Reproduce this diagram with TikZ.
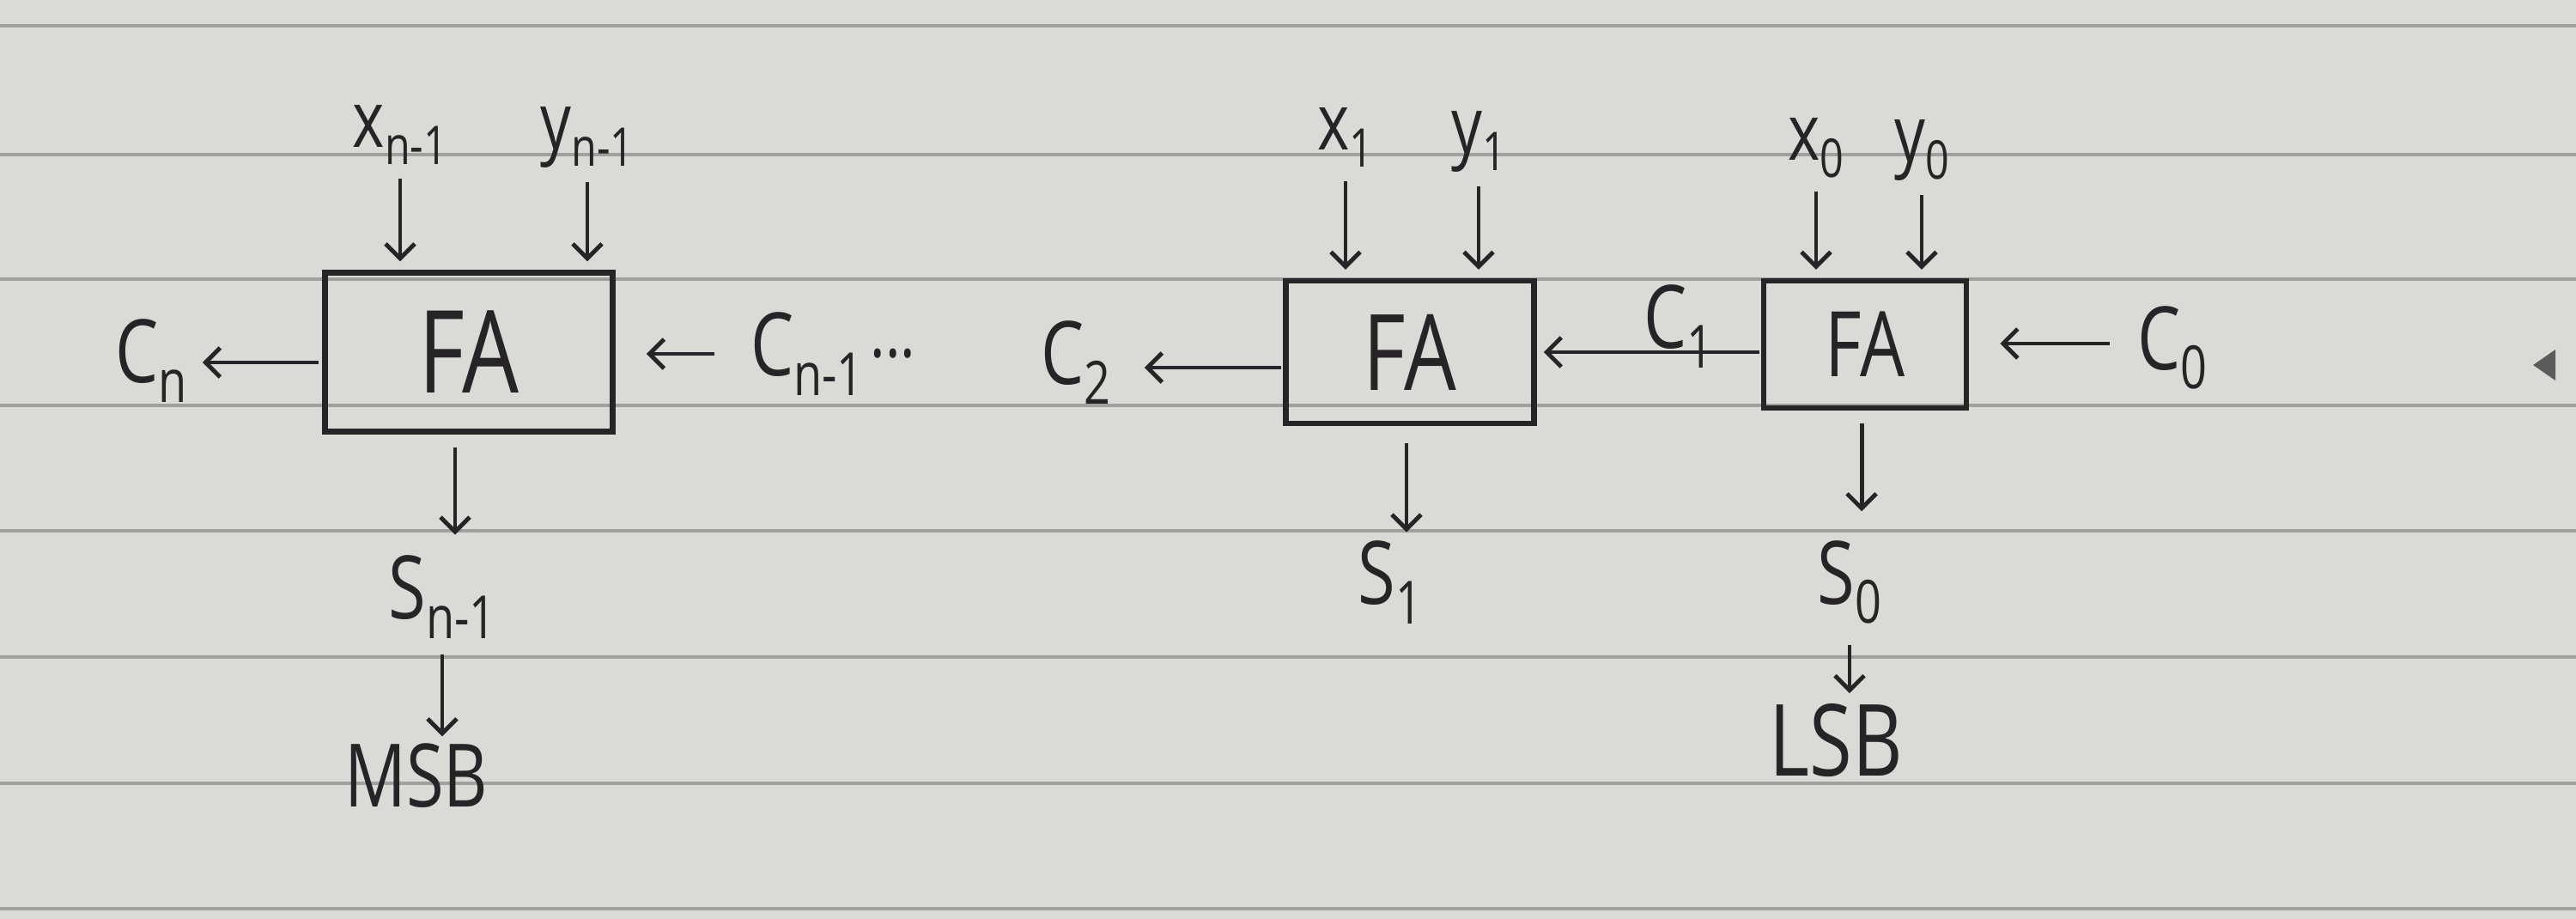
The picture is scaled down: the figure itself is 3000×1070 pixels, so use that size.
\documentclass[tikz,border=0pt]{standalone}
\usepackage{fontspec}
\setmainfont{Open Sans}
\usepackage{graphicx}
\usetikzlibrary{arrows.meta}
\definecolor{paper}{RGB}{218,218,215}
\definecolor{rulecol}{RGB}{160,160,158}
\definecolor{ink}{RGB}{38,36,38}
\newcommand\lowsub[1]{\raisebox{-0.22em}{\scalebox{0.68}{#1}}}
\newcommand\hand[1]{\scalebox{0.78}[1]{#1}}
\begin{document}
\begin{tikzpicture}[x=0.01cm,y=-0.01cm,
  arr/.style={draw=ink, line width=1.4pt, -{Straight Barb[length=0.17cm,width=0.34cm,line width=1.4pt]}},
  fabox/.style={draw=ink, line width=1.8pt, inner sep=0pt, text=ink},
  lab/.style={text=ink, inner sep=1pt, font=\fontsize{29}{31}\selectfont},
  inlab/.style={lab, font=\fontsize{26}{28}\selectfont}]
\fill[paper] (0,0) rectangle (3000,1070);
\useasboundingbox (0,0) rectangle (3000,1070);
\foreach \yy in {30,180,325,472,618,765,912,1058}
  \draw[rulecol, line width=1.2pt] (0,\yy) -- (3000,\yy);
\fill[ink!75] (2950,425) -- (2976,407) -- (2976,443) -- cycle;

% full adders
\node[fabox, minimum width=3.35cm, minimum height=1.85cm] (fa1) at (546,410) {\fontsize{38}{40}\selectfont\hand{FA}};
\node[fabox, minimum width=2.89cm, minimum height=1.66cm] (fa2) at (1642,410) {\fontsize{35}{37}\selectfont\hand{FA}};
\node[fabox, minimum width=2.36cm, minimum height=1.48cm] (fa3) at (2172,401) {\fontsize{30}{32}\selectfont\hand{FA}};

% inputs
\node[inlab] (xn1) at (466,157) {\hand{x\lowsub{n-1}}};
\node[inlab] (yn1) at (684,160) {\hand{y\lowsub{n-1}}};
\node[inlab] (x1) at (1567,160) {\hand{x\lowsub{1}}};
\node[inlab] (y1) at (1722,165) {\hand{y\lowsub{1}}};
\node[inlab] (x0) at (2115,172) {\hand{x\lowsub{0}}};
\node[inlab] (y0) at (2238,175) {\hand{y\lowsub{0}}};

\foreach \n/\b in {xn1/fa1, yn1/fa1, x1/fa2, y1/fa2, x0/fa3, y0/fa3}
  \draw[arr, shorten <=0.12cm, shorten >=0.1cm] (\n.south) -- (\n.south |- \b.north);

% carries
\node[lab] (cn) at (176,420) {\hand{C\lowsub{n}}};
\node[lab] (cn1) at (940,412) {\hand{C\lowsub{n-1}}};
\node[lab, font=\fontsize{24}{26}\selectfont] (dots) at (1040,424) {\hand{···}};
\node[lab] (c2) at (1253,422) {\hand{C\lowsub{2}}};
\node[lab] (c1) at (1955,380) {\hand{C\lowsub{1}}};
\node[lab] (c0) at (2530,405) {\hand{C\lowsub{0}}};

\draw[arr, shorten <=0.04cm, shorten >=0.14cm] ([yshift=-0.12cm]fa1.west) -- ([yshift=-0.12cm]fa1.west -| cn.east);
\draw[arr, shorten <=0.38cm, shorten >=0.36cm] (cn1.west) -- (cn1.west -| fa1.east);
\draw[arr, shorten <=0.02cm, shorten >=0.35cm] ([yshift=-0.18cm]fa2.west) -- ([yshift=-0.18cm]fa2.west -| c2.east);
\draw[arr, shorten <=0.02cm, shorten >=0.08cm] ([yshift=-0.09cm]fa3.west) -- ([yshift=-0.09cm]fa3.west -| fa2.east);
\draw[arr, shorten <=0.28cm, shorten >=0.36cm] ([yshift=0.05cm]c0.west) -- ([yshift=0.05cm]c0.west -| fa3.east);

% sums
\node[lab] (sn1) at (515,695) {\hand{S\lowsub{n-1}}};
\node[lab] (s1) at (1619,678) {\hand{S\lowsub{1}}};
\node[lab] (s0) at (2154,678) {\hand{S\lowsub{0}}};
\node[lab] (msb) at (485,903) {\hand{MSB}};
\node[lab, font=\fontsize{33}{35}\selectfont] (lsb) at (2138,862) {\hand{LSB}};

\draw[arr, shorten <=0.15cm, shorten >=0.2cm] ([xshift=0.15cm]sn1.north |- fa1.south) -- ([xshift=0.15cm]sn1.north);
\draw[arr, shorten <=0.2cm, shorten >=0.06cm] ([xshift=0.19cm]s1.north |- fa2.south) -- ([xshift=0.19cm]s1.north);
\draw[arr, shorten <=0.15cm, shorten >=0.3cm] ([xshift=0.14cm]s0.north |- fa3.south) -- ([xshift=0.14cm]s0.north);
\draw[arr, shorten <=0.15cm, shorten >=0.04cm] (sn1.south) -- (sn1.south |- msb.north);
\draw[arr, shorten <=0.2cm, shorten >=0.08cm] (s0.south) -- (s0.south |- lsb.north);
\end{tikzpicture}
\end{document}
